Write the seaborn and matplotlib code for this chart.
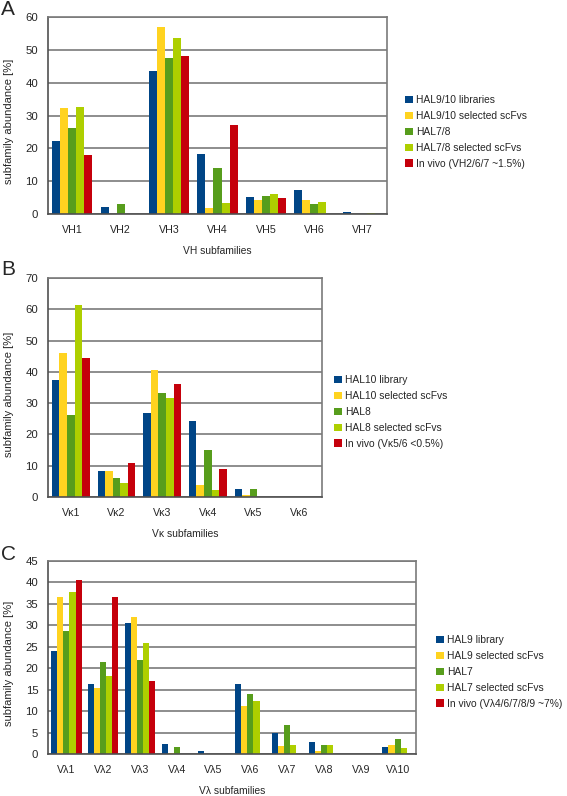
import numpy as np
import pandas as pd
import matplotlib
matplotlib.use("Agg")
import matplotlib.pyplot as plt
import seaborn as sns
from matplotlib.patches import Patch

# figure size in pixels (dpi 100)
W, H = 567, 796
COLORS = ["#004586", "#ffd320", "#579d1c", "#aecf00", "#c5000b"]
FS = 7.4

# --- panel A: VH ---
vh_subfamilies = ["VH1", "VH2", "VH3", "VH4", "VH5", "VH6", "VH7"]
vh_series = ["HAL9/10 libraries", "HAL9/10 selected scFvs", "HAL7/8",
             "HAL7/8 selected scFvs", "In vivo (VH2/6/7 ~1.5%)"]
vh_hal910_lib = [22.2, 2.2, 43.7, 18.3, 5.1, 7.3, 0.5]
vh_hal910_sel = [32.4, 0.0, 57.0, 1.8, 4.3, 4.4, 0.1]
vh_hal78 = [26.3, 3.1, 47.5, 14.0, 5.5, 3.0, 0.0]
vh_hal78_sel = [32.5, 0.1, 53.5, 3.4, 6.1, 3.6, 0.2]
vh_in_vivo = [18.0, 0.0, 48.0, 27.0, 5.0, 0.0, 0.0]

# --- panel B: V kappa ---
vk_subfamilies = ["Vκ1", "Vκ2", "Vκ3", "Vκ4", "Vκ5", "Vκ6"]
vk_series = ["HAL10 library", "HAL10 selected scFvs", "HAL8",
             "HAL8 selected scFvs", "In vivo (Vκ5/6 <0.5%)"]
vk_hal10_lib = [37.5, 8.2, 26.7, 24.3, 2.7, 0.0]
vk_hal10_sel = [46.0, 8.3, 40.7, 3.8, 0.7, 0.0]
vk_hal8 = [26.3, 6.2, 33.3, 15.0, 2.5, 0.0]
vk_hal8_sel = [61.3, 4.4, 31.8, 2.2, 0.0, 0.0]
vk_in_vivo = [44.5, 11.0, 36.0, 9.0, 0.0, 0.0]

# --- panel C: V lambda ---
vl_subfamilies = ["Vλ1", "Vλ2", "Vλ3", "Vλ4", "Vλ5", "Vλ6", "Vλ7", "Vλ8", "Vλ9", "Vλ10"]
vl_series = ["HAL9 library", "HAL9 selected scFvs", "HAL7",
             "HAL7 selected scFvs", "In vivo (Vλ4/6/7/8/9 ~7%)"]
vl_hal9_lib = [24.0, 16.4, 30.6, 2.4, 0.7, 16.3, 5.0, 2.9, 0.0, 1.6]
vl_hal9_sel = [36.5, 15.5, 32.0, 0.2, 0.0, 11.1, 1.8, 0.6, 0.0, 2.2]
vl_hal7 = [28.7, 21.4, 21.9, 1.7, 0.0, 14.0, 6.7, 2.2, 0.0, 3.4]
vl_hal7_sel = [37.8, 18.1, 25.8, 0.1, 0.1, 12.4, 2.0, 2.2, 0.0, 1.3]
vl_in_vivo = [40.5, 36.5, 17.0, 0.0, 0.0, 0.0, 0.0, 0.0, 0.0, 0.0]


def to_long(cats, series, columns):
    rows = []
    for name, vals in zip(series, columns):
        for c, v in zip(cats, vals):
            rows.append({"subfamily": c, "series": name, "abundance": v})
    return pd.DataFrame(rows)


def draw_panel(fig, box, cats, series, columns, ymax, ystep, xlabel, letter, letter_y, legend_xy):
    left, top, right, bottom = box
    ax = fig.add_axes([left / W, 1 - bottom / H, (right - left) / W, (bottom - top) / H])
    df = to_long(cats, series, columns)
    sns.barplot(data=df, x="subfamily", y="abundance", hue="series",
                order=cats, hue_order=series, palette=COLORS, width=0.83,
                saturation=1, linewidth=0, legend=False, ax=ax)

    n = len(cats)
    ax.set_xlim(-0.5, n - 0.5)
    ax.set_ylim(0, ymax)
    ax.set_yticks(np.arange(0, ymax + 0.1, ystep))
    ax.set_xticks(np.arange(-0.5, n, 1), minor=True)
    ax.tick_params(axis="x", which="major", length=0, pad=8, labelsize=FS + 0.3)
    ax.tick_params(axis="x", which="minor", length=4, color="#505050", width=1)
    ax.tick_params(axis="y", length=5, color="#505050", width=1, labelsize=FS + 0.8, pad=2)
    ax.yaxis.grid(True, color="#7a7a7a", linewidth=1.2)
    ax.xaxis.grid(False)
    ax.set_axisbelow(True)
    for name, sp in ax.spines.items():
        sp.set_visible(True)
        sp.set_color("#505050" if name in ("left", "bottom") else "#7a7a7a")
        sp.set_linewidth(1.2)
    ax.set_xlabel(xlabel, fontsize=FS, labelpad=8)
    ax.set_ylabel("subfamily abundance [%]", fontsize=FS + 0.6)
    ax.yaxis.set_label_coords((14 - left) / (right - left), 0.47)

    handles = [Patch(facecolor=c, edgecolor="none") for c in COLORS]
    ax.legend(handles, series, loc="upper left", frameon=False,
              bbox_to_anchor=(legend_xy[0] / W, 1 - legend_xy[1] / H),
              bbox_transform=fig.transFigure, fontsize=FS,
              handlelength=0.75, handleheight=0.75, handletextpad=0.35,
              labelspacing=0.58, borderpad=0, borderaxespad=0)

    fig.text(1 / W, 1 - letter_y / H, letter, fontsize=15, va="top", ha="left")
    return ax


sns.set_theme(style="white")
plt.rcParams["font.family"] = ["Liberation Sans", "DejaVu Sans"]

fig = plt.figure(figsize=(W / 100, H / 100), dpi=100)

draw_panel(fig, (48, 17, 387, 214), vh_subfamilies, vh_series,
           [vh_hal910_lib, vh_hal910_sel, vh_hal78, vh_hal78_sel, vh_in_vivo],
           60, 10, "VH subfamilies", "A", 0, (405, 95))

draw_panel(fig, (48, 278, 322, 497), vk_subfamilies, vk_series,
           [vk_hal10_lib, vk_hal10_sel, vk_hal8, vk_hal8_sel, vk_in_vivo],
           70, 10, "Vκ subfamilies", "B", 260, (334, 375))

draw_panel(fig, (48, 561, 416, 754), vl_subfamilies, vl_series,
           [vl_hal9_lib, vl_hal9_sel, vl_hal7, vl_hal7_sel, vl_in_vivo],
           45, 5, "Vλ subfamilies", "C", 545, (436, 635))

fig.savefig("out.png", dpi=100)
